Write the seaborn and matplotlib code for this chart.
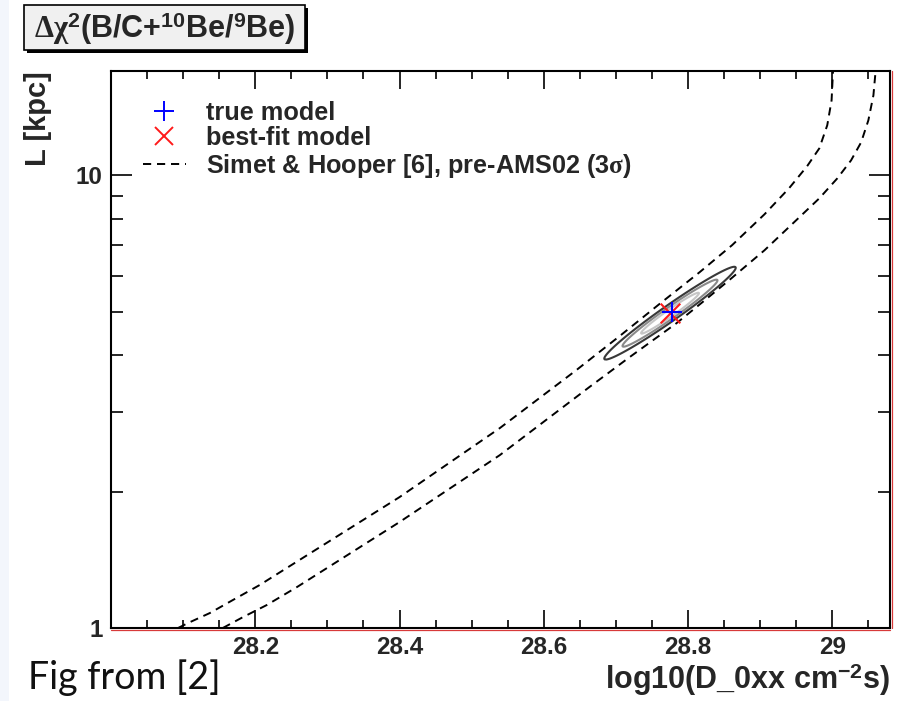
import numpy as np
import pandas as pd
import matplotlib
matplotlib.use("Agg")
import matplotlib.pyplot as plt
import matplotlib.ticker as mticker
import matplotlib.transforms as mtransforms
from matplotlib.lines import Line2D
from matplotlib.patches import Rectangle
from matplotlib import font_manager
import seaborn as sns

# ---- data -------------------------------------------------------------
# Simet & Hooper 3-sigma band (pre-AMS02): the two edges in (log10 D0xx, L [kpc])
band_upper_logD = [28.093, 28.107, 28.137, 28.169, 28.206, 28.303, 28.400, 28.539,
                   28.645, 28.705, 28.760, 28.816, 28.861, 28.906, 28.940, 28.965,
                   28.982, 28.993, 28.999, 29.001]
band_upper_L = [1.000, 1.026, 1.079, 1.153, 1.244, 1.556, 1.946, 2.764,
                3.711, 4.412, 5.191, 6.108, 7.008, 8.202, 9.361, 10.47,
                11.47, 12.90, 14.64, 16.97]
band_lower_logD = [28.155, 28.183, 28.216, 28.258, 28.400, 28.539, 28.663, 28.719,
                   28.784, 28.820, 28.857, 28.906, 28.947, 28.982, 29.007, 29.026,
                   29.040, 29.050, 29.057, 29.060]
band_lower_L = [1.000, 1.057, 1.124, 1.232, 1.714, 2.409, 3.404, 3.966,
                4.713, 5.245, 5.866, 6.830, 7.876, 8.896, 9.849, 10.79,
                11.83, 13.23, 15.02, 16.97]

# true model and best fit (log10 D0xx, L)
true_logD, true_L = 28.778, 5.00
fit_logD, fit_L = 28.775, 4.96

# Gaussian approximation of the Delta chi^2 surface around the best fit
sigma_logD = 0.0265
sigma_log10L = 0.0298
rho_fit = 0.978
chi2_levels = [2.30, 6.18, 11.83]
level_colors = ["#c6c6c6", "#8a8a8a", "#383838"]

xtick_values = [28.2, 28.4, 28.6, 28.8, 29.0]
xtick_labels = ["28.2", "28.4", "28.6", "28.8", "29"]
ytick_values = [1, 10]
ytick_labels = ["1", "10"]

legend_labels = ["true model", "best-fit model",
                 r"Simet & Hooper [6], pre-AMS02 (3$\mathrm{\sigma}$)"]

# ---- style ------------------------------------------------------------
sns.set_style("ticks")
plt.rcParams["font.family"] = ["Liberation Sans", "DejaVu Sans"]
plt.rcParams["font.weight"] = "bold"
plt.rcParams["mathtext.fontset"] = "custom"
plt.rcParams["mathtext.rm"] = "Liberation Serif"
plt.rcParams["mathtext.it"] = "Liberation Serif:italic"
plt.rcParams["mathtext.bf"] = "Liberation Sans:bold"
plt.rcParams["mathtext.sf"] = "Liberation Sans:bold"


def has_font(name):
    try:
        font_manager.findfont(font_manager.FontProperties(family=name),
                              fallback_to_default=False)
        return True
    except Exception:
        return False


note_family = ["Lato", "DejaVu Sans"] if has_font("Lato") else ["DejaVu Sans"]

W, H = 913, 701
fig = plt.figure(figsize=(W / 100, H / 100), dpi=100)
fig.patch.set_facecolor("white")
ax = fig.add_axes([111 / W, 73 / H, 779 / W, 557 / H])

# ---- contours ---------------------------------------------------------
gx = np.linspace(28.55, 28.98, 500)
gy = np.linspace(np.log10(3.0), np.log10(8.5), 500)
GX, GY = np.meshgrid(gx, gy)
dx = (GX - fit_logD) / sigma_logD
dy = (GY - np.log10(fit_L)) / sigma_log10L
dchi2 = (dx ** 2 - 2 * rho_fit * dx * dy + dy ** 2) / (1 - rho_fit ** 2)
ax.contour(GX, 10 ** GY, dchi2, levels=chi2_levels, colors=level_colors,
           linewidths=1.5)

# ---- band edges -------------------------------------------------------
dash = (0, (4.2, 3.0))
for xs, ys in [(band_upper_logD, band_upper_L), (band_lower_logD, band_lower_L)]:
    edge = pd.DataFrame({"logD": xs, "L": ys})
    sns.lineplot(data=edge, x="logD", y="L", sort=False, estimator=None,
                 color="black", lw=1.4, ax=ax, legend=False)
    ax.lines[-1].set_linestyle(dash)

# ---- markers ----------------------------------------------------------
sns.scatterplot(x=[fit_logD], y=[fit_L], marker="x", s=200, color="#ff1a1a",
                linewidth=1.5, ax=ax, zorder=5, legend=False)
sns.scatterplot(x=[true_logD], y=[true_L], marker="+", s=200, color="#0000ff",
                linewidth=1.5, ax=ax, zorder=6, legend=False)

# ---- axes -------------------------------------------------------------
ax.set_yscale("log")
ax.set_xlim(28.0, 29.08)
ax.set_ylim(1.0, 17.0)
ax.xaxis.set_major_locator(mticker.FixedLocator(xtick_values))
ax.xaxis.set_major_formatter(mticker.FixedFormatter(xtick_labels))
ax.xaxis.set_minor_locator(mticker.MultipleLocator(0.05))
ax.yaxis.set_major_locator(mticker.FixedLocator(ytick_values))
ax.yaxis.set_major_formatter(mticker.FixedFormatter(ytick_labels))
ax.yaxis.set_minor_locator(mticker.LogLocator(base=10, subs=np.arange(2, 10)))
ax.yaxis.set_minor_formatter(mticker.NullFormatter())

ax.tick_params(axis="both", which="both", direction="in", top=True, right=True,
               color="black", width=1.2)
ax.tick_params(axis="x", which="major", length=13, pad=6, labelsize=17.5)
ax.tick_params(axis="x", which="minor", length=6)
ax.tick_params(axis="y", which="major", length=15, pad=6, labelsize=17.5)
ax.tick_params(axis="y", which="minor", length=8.5)
for lab in ax.get_xticklabels() + ax.get_yticklabels():
    lab.set_fontweight("bold")

for side in ax.spines.values():
    side.set_linewidth(1.5)
    side.set_color("black")

# thin red rules along the lower and right frame edges
off_b = mtransforms.offset_copy(ax.transAxes, fig=fig, x=0, y=-1.5, units="dots")
off_r = mtransforms.offset_copy(ax.transAxes, fig=fig, x=1.5, y=0, units="dots")
ax.add_line(Line2D([0, 1], [0, 0], transform=off_b, color="#d83a3a", lw=0.9,
                   clip_on=False))
ax.add_line(Line2D([1, 1], [0, 1], transform=off_r, color="#d83a3a", lw=0.9,
                   clip_on=False))

ax.set_xlabel(r"log10(D_0xx cm$^{\mathbf{-2}}$s)", fontsize=22, fontweight="bold",
              ha="right", va="top")
ax.xaxis.set_label_coords(1.0, -0.060)
ax.set_ylabel("L [kpc]", fontsize=21, fontweight="bold", ha="right", va="bottom")
ax.yaxis.set_label_coords(-0.076, 1.0)

# ---- legend -----------------------------------------------------------
handles = [
    Line2D([], [], marker="+", ls="None", color="#0000ff", markersize=14, mew=1.4),
    Line2D([], [], marker="x", ls="None", color="#ff1a1a", markersize=13, mew=1.4),
    Line2D([], [], ls=dash, color="black", lw=1.4),
]
ax.legend(handles, legend_labels, loc="upper left", bbox_to_anchor=(0.041, 0.946),
          frameon=False, handlelength=1.7, handletextpad=0.78,
          labelspacing=0.05, borderpad=0, borderaxespad=0,
          prop={"weight": "bold", "size": 18.2})

# ---- title box --------------------------------------------------------
bx, by, bw, bh = 24, 5, 281, 45
fig.add_artist(Rectangle(((bx + 3) / W, 1 - (by + bh + 3) / H), bw / W, bh / H,
                         transform=fig.transFigure, fc="black", ec="black", lw=0))
fig.add_artist(Rectangle((bx / W, 1 - (by + bh) / H), bw / W, bh / H,
                         transform=fig.transFigure, fc="#f0f0f0", ec="black", lw=1.2))
fig.text((bx + bw / 2) / W, 1 - (by + bh / 2 + 1) / H,
         r"$\mathrm{\Delta\chi}^{\mathbf{2}}$(B/C+$^{\mathbf{10}}$Be/$^{\mathbf{9}}$Be)",
         ha="center", va="center", fontsize=22, fontweight="bold")

# slide strip on the left and the source note
fig.add_artist(Rectangle((0, 0), 9 / W, 1, transform=fig.transFigure,
                         fc="#f3f6fc", ec="none"))
fig.text(28 / W, 1 - 678 / H, "Fig from [2]", ha="left", va="center",
         fontsize=27, fontweight="normal", family=note_family, color="#111111")

fig.savefig("out.png", dpi=100)
